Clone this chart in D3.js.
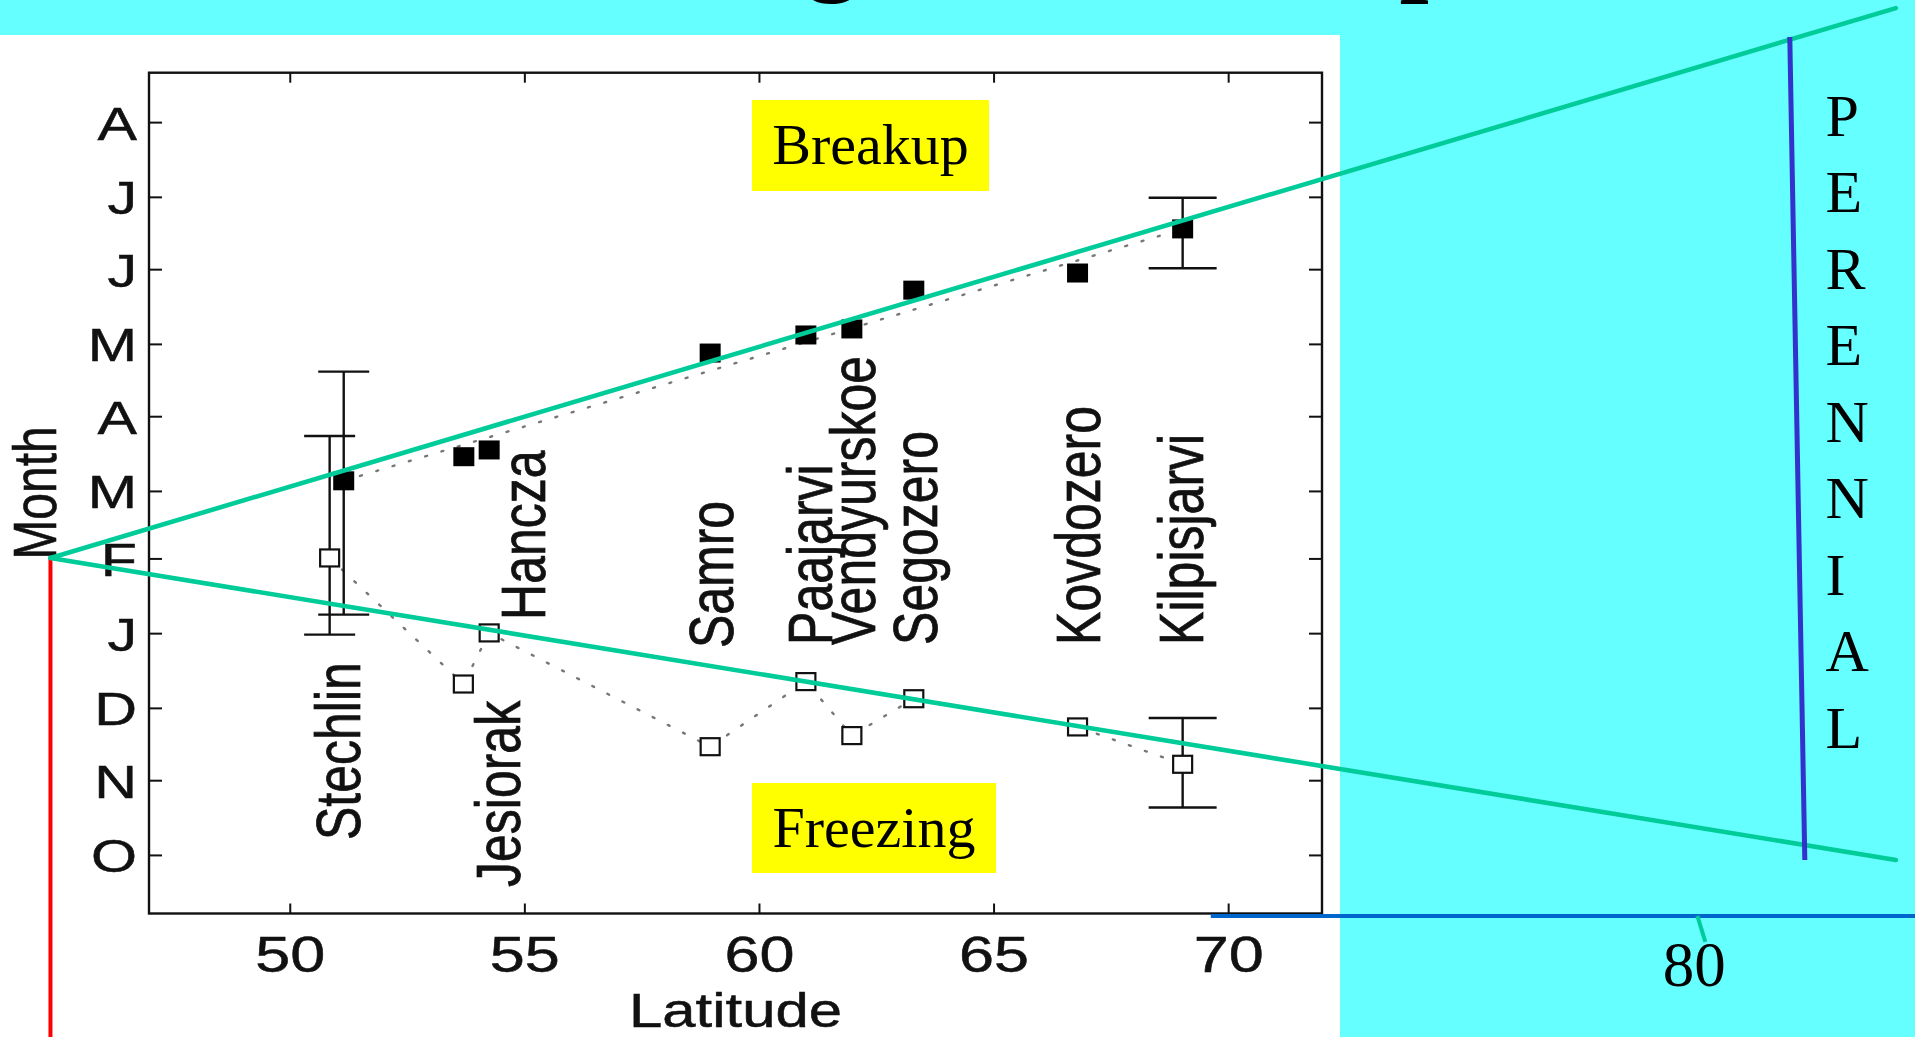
<!DOCTYPE html>
<html>
<head>
<meta charset="utf-8">
<script src="https://cdn.jsdelivr.net/npm/d3@7"></script>
<style>
  html, body { margin: 0; padding: 0; background: #66FFFF; overflow: hidden; }
  svg { display: block; }
</style>
</head>
<body>
<svg id="chart" width="1915" height="1037"></svg>
<script>
// ---------------- DATA ----------------
const lakes        = ["Stechlin","Jesiorak","Hancza","Samro","Paajarvi","Vendyurskoe","Segozero","Kovdozero","Kilpisjarvi"];
// latitude of each lake's marker (breakup / freezing)
const breakupLat   = [51.15, 53.71, 54.25, 58.96, 61.00, 61.98, 63.30, 66.79, 69.03];
const freezeLat    = [50.85, 53.70, 54.25, 58.96, 61.00, 61.98, 63.30, 66.79, 69.03];
// dates as days counted from 1 October
const breakupDay   = [155.2, 165.2, 168.0, 208.2, 215.7, 218.2, 234.3, 241.4, 259.7];
const freezeDay    = [123.2, 70.9, 92.1, 44.9, 71.9, 49.5, 64.8, 53.1, 37.6];
// error bars (only Stechlin and Kilpisjarvi)
const errLake      = ["Stechlin","Stechlin","Kilpisjarvi","Kilpisjarvi"];
const errLat       = [51.15, 50.85, 69.03, 69.03];
const errLow       = [99.7, 91.4, 243.4, 19.7];
const errHigh      = [200.5, 173.8, 272.6, 56.8];
// lake name annotation anchors (data units)
const labelLat     = [51.50, 54.91, 55.44, 59.45, 61.55, 62.47, 63.79, 67.27, 69.46];
const labelDay     = [6.2, -13.3, 97.5, 85.8, 87.1, 87.1, 87.1, 87.1, 87.1];
// axes
const latTicks     = [50, 55, 60, 65, 70];
const monthTicks   = [0, 31, 61, 92, 123, 151, 182, 212, 243, 273, 304];
const monthLabels  = ["O","N","D","J","F","M","A","M","J","J","A"];
// slide overlay (in the chart's data units, extended)
const apex         = [44.9, 123.2];
const upperEnd     = [84.23, 351.3];
const lowerEnd     = [84.23, -2.1];
const perennialTop = [81.97, 339.3];
const perennialBot = [82.29, -2.1];
const extTick      = 80;
const perennialText = "PERENNIAL";

// ---------------- SETUP ----------------
const svg = d3.select("#chart");
const W = 1915, H = 1037;
const x = d3.scaleLinear().domain([47, 72]).range([149, 1322]);
const y = d3.scaleLinear().domain([-24.3, 324.5]).range([913.5, 72.7]);
const SX = 1.26; // horizontal stretch of the pasted figure
const sans = "'Liberation Sans', Arial, Helvetica, sans-serif";
const serif = "'Liberation Serif', 'Times New Roman', Times, serif";
const INK = "#111";

svg.append("rect").attr("x",0).attr("y",0).attr("width",W).attr("height",H).attr("fill","#66FFFF");

// partially visible slide title (only descenders show, as in the slide)
svg.append("text").attr("x",470).attr("y",-19)
  .attr("font-family",serif).attr("font-weight","bold").attr("font-size",105)
  .attr("fill","#000").text("Freezing and breakup");

// white figure panel
svg.append("rect").attr("x",0).attr("y",35).attr("width",1340).attr("height",H-35).attr("fill","#fff");

const g = svg.append("g");

const [x0, x1] = x.range();
const [yb, yt] = y.range();

const axB = g.append("g").attr("transform",`translate(0,${yb})`)
  .call(d3.axisBottom(x).tickValues(latTicks).tickSizeInner(-10).tickSizeOuter(0).tickFormat(d3.format("d")));
const axT = g.append("g").attr("transform",`translate(0,${yt})`)
  .call(d3.axisTop(x).tickValues(latTicks).tickSizeInner(-10).tickSizeOuter(0).tickFormat(""));
const axL = g.append("g").attr("transform",`translate(${x0},0)`)
  .call(d3.axisLeft(y).tickValues(monthTicks).tickSizeInner(-13).tickSizeOuter(0).tickFormat((d,i)=>monthLabels[i]));
const axR = g.append("g").attr("transform",`translate(${x1},0)`)
  .call(d3.axisRight(y).tickValues(monthTicks).tickSizeInner(-13).tickSizeOuter(0).tickFormat(""));

[axB, axT, axL, axR].forEach(a => {
  a.select(".domain").remove();
  a.selectAll(".tick line").attr("stroke",INK).attr("stroke-width",2);
});
axB.selectAll(".tick text")
  .attr("y",0).attr("dy",0)
  .attr("transform",`translate(0,58.5) scale(${SX},1)`)
  .attr("font-family",sans).attr("font-size",50).attr("fill",INK)
  .attr("stroke",INK).attr("stroke-width",0.5);
axL.selectAll(".tick text")
  .attr("x",0).attr("dy","0.36em")
  .attr("transform",`translate(-12,0) scale(${SX},1)`)
  .attr("font-family",sans).attr("font-size",47).attr("fill",INK)
  .attr("stroke",INK).attr("stroke-width",0.5);

g.append("rect").attr("x",x0).attr("y",yt).attr("width",x1-x0).attr("height",yb-yt)
  .attr("fill","none").attr("stroke",INK).attr("stroke-width",2.4);

// axis titles
g.append("text").attr("transform",`translate(${(x0+x1)/2},1027) scale(${SX},1)`)
  .attr("text-anchor","middle").attr("font-family",sans).attr("font-size",47.5).attr("fill",INK)
  .attr("stroke",INK).attr("stroke-width",0.5).text("Latitude");
g.append("text").attr("transform",`translate(56,493) scale(${SX},1) rotate(-90)`)
  .attr("text-anchor","middle").attr("font-family",sans).attr("font-size",48).attr("fill",INK)
  .attr("stroke",INK).attr("stroke-width",0.5).text("Month");

// dotted lines
const line = d3.line().x(d => x(d[0])).y(d => y(d[1]));
const bN = breakupLat.length - 1;
g.append("path").datum([[breakupLat[0], breakupDay[0]], [breakupLat[bN], breakupDay[bN]]])
  .attr("d", line).attr("fill","none").attr("stroke","#777").attr("stroke-width",2.4)
  .attr("stroke-dasharray","2,15").attr("stroke-linecap","round");
g.append("path").datum(freezeLat.map((l,i)=>[l, freezeDay[i]]))
  .attr("d", line).attr("fill","none").attr("stroke","#777").attr("stroke-width",2.4)
  .attr("stroke-dasharray","2,15").attr("stroke-linecap","round");

// error bars
const capHalf = name => name === "Kilpisjarvi" ? 34 : 25.5;
errLat.forEach((lat, i) => {
  const cx = x(lat), hw = capHalf(errLake[i]);
  const eg = g.append("g").attr("stroke",INK).attr("stroke-width",2.4);
  eg.append("line").attr("x1",cx).attr("x2",cx).attr("y1",y(errLow[i])).attr("y2",y(errHigh[i]));
  eg.append("line").attr("x1",cx-hw).attr("x2",cx+hw).attr("y1",y(errLow[i])).attr("y2",y(errLow[i]));
  eg.append("line").attr("x1",cx-hw).attr("x2",cx+hw).attr("y1",y(errHigh[i])).attr("y2",y(errHigh[i]));
});

// markers
const MW = 21, MH = 19;
g.selectAll("rect.freeze").data(freezeLat.map((l,i)=>[l, freezeDay[i]])).enter().append("rect")
  .attr("class","freeze")
  .attr("x", d => x(d[0]) - MW/2 + 1).attr("y", d => y(d[1]) - MH/2 + 1)
  .attr("width", MW - 2).attr("height", MH - 2)
  .attr("fill","#fff").attr("stroke",INK).attr("stroke-width",2.2);
g.selectAll("rect.breakup").data(breakupLat.map((l,i)=>[l, breakupDay[i]])).enter().append("rect")
  .attr("class","breakup")
  .attr("x", d => x(d[0]) - MW/2).attr("y", d => y(d[1]) - MH/2)
  .attr("width", MW).attr("height", MH).attr("fill","#000");

// lake names
g.selectAll("text.lake").data(lakes).enter().append("text")
  .attr("class","lake")
  .attr("transform",(d,i)=>`translate(${x(labelLat[i])},${y(labelDay[i])}) scale(${SX},1) rotate(-90)`)
  .attr("text-anchor","start").attr("font-family",sans).attr("font-size",50).attr("fill",INK)
  .attr("stroke",INK).attr("stroke-width",0.6)
  .text(d => d);

// yellow labels
function tag(bx, by, w, h, label, baseline) {
  g.append("rect").attr("x",bx).attr("y",by).attr("width",w).attr("height",h).attr("fill","#FFFF00");
  g.append("text").attr("x",bx + w/2).attr("y",baseline).attr("text-anchor","middle")
    .attr("font-family",serif).attr("font-size",58).attr("fill","#000").text(label);
}
tag(752, 100, 237, 91, "Breakup", 164);
tag(752, 783, 244, 90, "Freezing", 846.5);

// ---------------- SLIDE OVERLAY ----------------
const ov = svg.append("g");
const extY = y(-25.3);
ov.append("line").attr("x1",x(apex[0])).attr("x2",x(apex[0])).attr("y1",y(apex[1])).attr("y2",H)
  .attr("stroke","#FF0000").attr("stroke-width",4);
ov.append("line").attr("x1",x(69.63)).attr("x2",W).attr("y1",extY).attr("y2",extY)
  .attr("stroke","#0066CC").attr("stroke-width",4);
ov.append("line").attr("x1",x(extTick)).attr("x2",x(extTick)+8).attr("y1",extY).attr("y2",extY+26)
  .attr("stroke","#00CC99").attr("stroke-width",4);
ov.append("text").attr("x",x(extTick)-3).attr("y",986).attr("text-anchor","middle")
  .attr("font-family",serif).attr("font-size",63).attr("fill","#000").text(String(extTick));
[upperEnd, lowerEnd].forEach(e => {
  ov.append("line").attr("x1",x(apex[0])).attr("y1",y(apex[1])).attr("x2",x(e[0])).attr("y2",y(e[1]))
    .attr("stroke","#00CC99").attr("stroke-width",4.6).attr("stroke-linecap","round");
});
ov.append("line").attr("x1",x(perennialTop[0])).attr("y1",y(perennialTop[1]))
  .attr("x2",x(perennialBot[0])).attr("y2",y(perennialBot[1]))
  .attr("stroke","#3333CC").attr("stroke-width",5);
ov.selectAll("text.per").data(perennialText.split("")).enter().append("text")
  .attr("class","per").attr("x",1825.5).attr("y",(d,i)=>135.6 + i*76.5)
  .attr("font-family",serif).attr("font-size",60).attr("fill","#000").text(d=>d);
</script>
</body>
</html>
